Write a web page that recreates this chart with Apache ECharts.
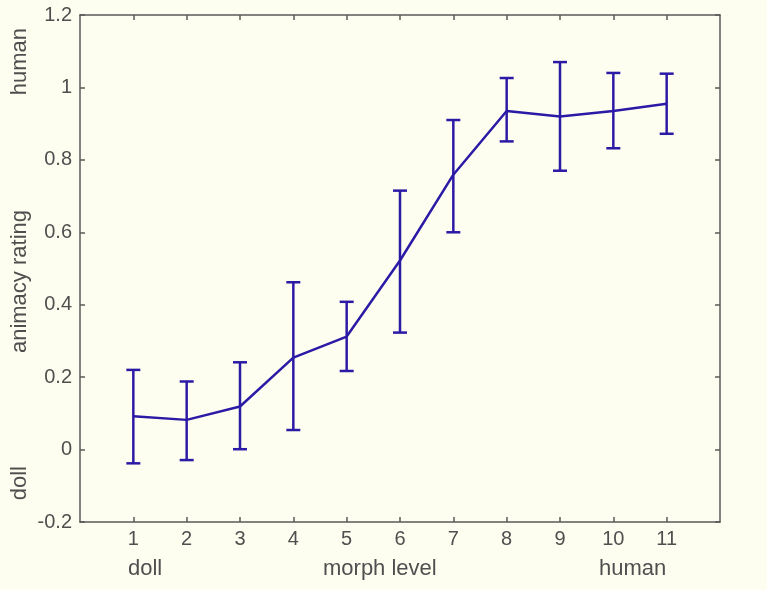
<!DOCTYPE html>
<html>
<head>
<meta charset="utf-8">
<script src="https://cdn.jsdelivr.net/npm/echarts@6/dist/echarts.min.js"></script>
<style>
  html, body { margin: 0; padding: 0; background: #fefef0; }
  #main { width: 767px; height: 590px; }
</style>
</head>
<body>
<div id="main"></div>
<script>
// morph levels and ratings
var levels = [1, 2, 3, 4, 5, 6, 7, 8, 9, 10, 11];
var meanRating = [0.092, 0.082, 0.119, 0.254, 0.312, 0.522, 0.759, 0.935, 0.92, 0.935, 0.955];
var lowRating = [-0.038, -0.029, 0.001, 0.054, 0.217, 0.323, 0.60, 0.851, 0.77, 0.832, 0.872];
var highRating = [0.22, 0.188, 0.241, 0.462, 0.408, 0.715, 0.91, 1.026, 1.07, 1.04, 1.038];
var yTicks = [-0.2, 0, 0.2, 0.4, 0.6, 0.8, 1, 1.2];

var lineColor = '#2b1aa6';
var axisColor = '#5a5a5a';
var textColor = '#4f4f4f';
var font = 'Liberation Sans, Arial, sans-serif';
var nameFont = '22px ' + font;

var myChart = echarts.init(document.getElementById('main'));

var meanData = levels.map(function (x, i) { return [x, meanRating[i]]; });
var barData = levels.map(function (x, i) { return [x, lowRating[i], highRating[i]]; });

// box axes: same scale on all four sides, ticks pointing in
function boxAxis(extra) {
    var a = {
        type: 'value',
        axisLine: { show: true, onZero: false, lineStyle: { color: axisColor, width: 1.5 } },
        axisTick: { show: true, inside: true, length: 5, lineStyle: { color: axisColor, width: 1.5 } },
        splitLine: { show: false }
    };
    for (var k in extra) a[k] = extra[k];
    return a;
}

var option = {
    backgroundColor: '#fefef0',
    animation: false,
    grid: { left: 80, right: 47, top: 15, bottom: 68 },
    xAxis: [
        boxAxis({ min: 0, max: 12, interval: 1,
            axisTick: { show: true, inside: true, length: 5, customValues: levels, lineStyle: { color: axisColor, width: 1.5 } },
            axisLabel: { customValues: levels, color: textColor, fontSize: 20, fontFamily: font, margin: 7 } }),
        boxAxis({ position: 'top', min: 0, max: 12, interval: 1,
            axisTick: { show: true, inside: true, length: 5, customValues: levels, lineStyle: { color: axisColor, width: 1.5 } },
            axisLabel: { show: false } })
    ],
    yAxis: [
        boxAxis({ min: -0.2, max: 1.2, interval: 0.2,
            axisTick: { show: true, inside: true, length: 5, customValues: yTicks, lineStyle: { color: axisColor, width: 1.5 } },
            axisLabel: { color: textColor, fontSize: 20, fontFamily: font, margin: 8 } }),
        boxAxis({ position: 'right', min: -0.2, max: 1.2, interval: 0.2,
            axisTick: { show: true, inside: true, length: 5, customValues: yTicks, lineStyle: { color: axisColor, width: 1.5 } },
            axisLabel: { show: false } })
    ],
    graphic: [
        { type: 'text', left: 9, top: 28, rotation: Math.PI / 2,
          style: { text: 'human', fill: textColor, font: nameFont } },
        { type: 'text', left: 9, top: 210, rotation: Math.PI / 2,
          style: { text: 'animacy rating', fill: textColor, font: nameFont } },
        { type: 'text', left: 9, top: 466, rotation: Math.PI / 2,
          style: { text: 'doll', fill: textColor, font: nameFont } },
        { type: 'text', left: 128, top: 558,
          style: { text: 'doll', fill: textColor, font: nameFont } },
        { type: 'text', left: 323, top: 558,
          style: { text: 'morph level', fill: textColor, font: nameFont } },
        { type: 'text', left: 599, top: 558,
          style: { text: 'human', fill: textColor, font: nameFont } }
    ],
    series: [{
        type: 'line',
        data: meanData,
        symbol: 'none',
        lineStyle: { color: lineColor, width: 2.5 },
        z: 3
    }, {
        type: 'custom',
        data: barData,
        renderItem: function (params, api) {
            var x = api.value(0);
            var lo = api.coord([x, api.value(1)]);
            var hi = api.coord([x, api.value(2)]);
            var cap = 7;
            var style = { stroke: lineColor, lineWidth: 2.5 };
            return {
                type: 'group',
                children: [
                    { type: 'line', shape: { x1: lo[0], y1: lo[1], x2: hi[0], y2: hi[1] }, style: style },
                    { type: 'line', shape: { x1: lo[0] - cap, y1: lo[1], x2: lo[0] + cap, y2: lo[1] }, style: style },
                    { type: 'line', shape: { x1: hi[0] - cap, y1: hi[1], x2: hi[0] + cap, y2: hi[1] }, style: style }
                ]
            };
        },
        z: 4
    }]
};

myChart.setOption(option);
</script>
</body>
</html>
